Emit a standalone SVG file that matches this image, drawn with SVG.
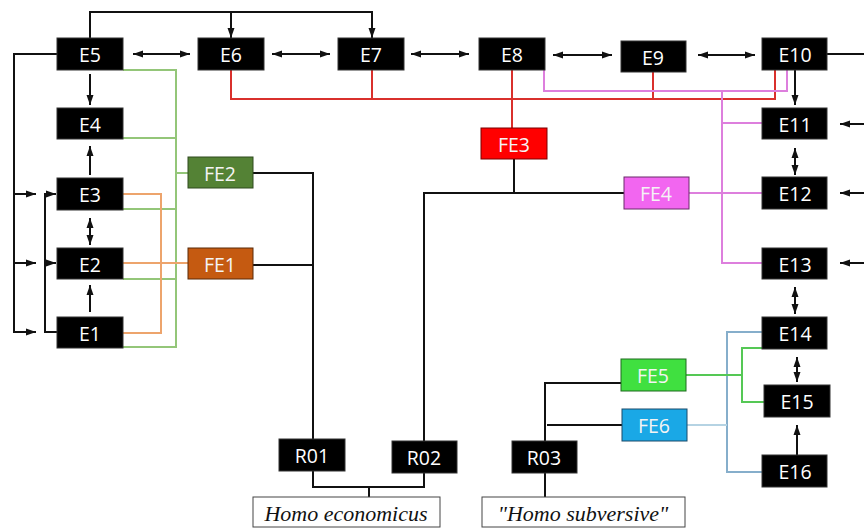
<svg xmlns="http://www.w3.org/2000/svg" width="864" height="528" viewBox="0 0 864 528">
<style>
.n rect{fill:#000;stroke:#333;stroke-width:1}
.n text{fill:#fff;font-family:"Open Sans","Liberation Sans",sans-serif;font-size:19.5px;text-anchor:middle;dominant-baseline:central}
.fe text{fill:#f4f4f4}
.lbl rect{fill:#fff;stroke:#444;stroke-width:1}
.lbl text{fill:#111;font-family:"Liberation Serif",serif;font-style:italic;font-size:22px;text-anchor:middle}
.c path{fill:none;stroke-width:2}
.k{stroke:#111}
.a{marker-end:url(#ah)}
.b{marker-start:url(#ahs);marker-end:url(#ah)}
.red{stroke:#d9302c}
.pk{stroke:#dd7fdd}
.lg{stroke:#94c679}
.or{stroke:#eda46c}
.bl{stroke:#86aecb}
.gr{stroke:#55c855}
</style>
<defs>
<marker id="ah" markerUnits="userSpaceOnUse" markerWidth="10" markerHeight="10" viewBox="0 0 10 10" refX="10" refY="5" orient="auto"><path d="M0,1.5 L10,5 L0,8.5 Z" fill="#111"/></marker>
<marker id="ahs" markerUnits="userSpaceOnUse" markerWidth="10" markerHeight="10" viewBox="0 0 10 10" refX="0" refY="5" orient="auto"><path d="M10,1.5 L0,5 L10,8.5 Z" fill="#111"/></marker>
</defs>
<g id="connectors" class="c">
<path class="k a" d="M90,38 V12 H372 V38"/>
<path class="k a" d="M231,12 V38"/>
<path class="k b" d="M133,54 H190"/>
<path class="k b" d="M272,54 H330"/>
<path class="k b" d="M411,54 H469"/>
<path class="k b" d="M553,55 H612"/>
<path class="k b" d="M698,55 H755"/>
<path class="k" d="M827,54 H864"/>
<path class="k a" d="M795,70 V105"/>
<path class="k a" d="M864,124 H840"/>
<path class="k a" d="M864,193 H840"/>
<path class="k a" d="M864,263 H840"/>
<path class="k b" d="M795,148 V175"/>
<path class="k b" d="M795,287 V314"/>
<path class="k b" d="M797,357 V382"/>
<path class="k a" d="M797,455 V425"/>
<path class="k a" d="M90,74 V105"/>
<path class="k a" d="M90,175 V146"/>
<path class="k b" d="M90,218 V245"/>
<path class="k a" d="M90,312 V285"/>
<path class="k a" d="M57,54 H14 V332 H36"/>
<path class="k a" d="M14,194 H36"/>
<path class="k a" d="M14,263 H36"/>
<path class="k a" d="M57,332 H45 V194 H56"/>
<path class="k a" d="M45,263 H56"/>
<path class="red" d="M231,70 V99 H775 V70"/>
<path class="red" d="M372,70 V99"/>
<path class="red" d="M653,72 V99"/>
<path class="red" d="M512,70 V128"/>
<path class="pk" d="M544,70 V91 H787 V70"/>
<path class="pk" d="M722,91 V263 H762"/>
<path class="pk" d="M722,123 H762"/>
<path class="pk" d="M689,193 H762"/>
<path class="lg" d="M123,70 H176 V347 H123"/>
<path class="lg" d="M123,138 H176"/>
<path class="lg" d="M176,173 H188"/>
<path class="lg" d="M123,209 H176"/>
<path class="lg" d="M123,279 H176"/>
<path class="or" d="M123,194 H161 V333 H123"/>
<path class="or" d="M123,263 H188"/>
<path class="k" d="M253,173 H313 V439"/>
<path class="k" d="M253,265 H313"/>
<path class="k" d="M313,471 V487 H424 V473"/>
<path class="k" d="M369,487 V497"/>
<path class="k" d="M424,441 V193 H624"/>
<path class="k" d="M514,159 V193"/>
<path class="k" d="M621,383 H545 V441"/>
<path class="k" d="M622,425 H547"/>
<path class="k" d="M545,473 V497"/>
<path class="bl" d="M762,332 H727 V472 H762"/>
<path class="bl" style="stroke:#b5d3e3" d="M687,425 H727"/>
<path class="gr" d="M686,375 H742"/>
<path class="gr" d="M762,348 H742 V402 H764"/>
</g>
<g id="E5" class="n"><rect x="57" y="38" width="66" height="32"/><text x="90" y="54">E5</text></g>
<g id="E6" class="n"><rect x="198" y="38" width="66" height="32"/><text x="231" y="54">E6</text></g>
<g id="E7" class="n"><rect x="338" y="38" width="66" height="32"/><text x="371" y="54">E7</text></g>
<g id="E8" class="n"><rect x="479" y="38" width="66" height="32"/><text x="512" y="54">E8</text></g>
<g id="E9" class="n"><rect x="621" y="41" width="65" height="31"/><text x="653" y="57">E9</text></g>
<g id="E10" class="n"><rect x="762" y="38" width="65" height="32"/><text x="795" y="54">E10</text></g>
<g id="E4" class="n"><rect x="57" y="108" width="66" height="31"/><text x="90" y="124">E4</text></g>
<g id="E3" class="n"><rect x="57" y="178" width="66" height="32"/><text x="90" y="194">E3</text></g>
<g id="E2" class="n"><rect x="57" y="248" width="66" height="31"/><text x="90" y="264">E2</text></g>
<g id="E1" class="n"><rect x="57" y="317" width="66" height="31"/><text x="90" y="333">E1</text></g>
<g id="E11" class="n"><rect x="762" y="108" width="65" height="31"/><text x="795" y="124">E11</text></g>
<g id="E12" class="n"><rect x="762" y="177" width="65" height="32"/><text x="795" y="193">E12</text></g>
<g id="E13" class="n"><rect x="762" y="248" width="65" height="31"/><text x="795" y="264">E13</text></g>
<g id="E14" class="n"><rect x="762" y="317" width="65" height="32"/><text x="795" y="333">E14</text></g>
<g id="E15" class="n"><rect x="764" y="385" width="66" height="32"/><text x="797" y="401">E15</text></g>
<g id="E16" class="n"><rect x="762" y="455" width="65" height="32"/><text x="795" y="471">E16</text></g>
<g id="FE2" class="n fe"><rect x="188" y="157" width="65" height="31" style="fill:#548235;stroke:#2f4a1e"/><text x="220" y="173">FE2</text></g>
<g id="FE1" class="n fe"><rect x="188" y="248" width="65" height="31" style="fill:#c55a11;stroke:#5a2a08"/><text x="220" y="264">FE1</text></g>
<g id="FE3" class="n fe"><rect x="481" y="128" width="66" height="31" style="fill:#ff0000;stroke:#7a0000"/><text x="514" y="144">FE3</text></g>
<g id="FE4" class="n fe"><rect x="624" y="177" width="65" height="32" style="fill:#f266f0;stroke:#6a2a6a"/><text x="656" y="193">FE4</text></g>
<g id="FE5" class="n fe"><rect x="621" y="359" width="65" height="32" style="fill:#40e040;stroke:#1f6a1f"/><text x="653" y="375">FE5</text></g>
<g id="FE6" class="n fe"><rect x="622" y="409" width="65" height="32" style="fill:#1aa8e6;stroke:#1a4a6a"/><text x="654" y="425">FE6</text></g>
<g id="R01" class="n"><rect x="279" y="439" width="66" height="32"/><text x="312" y="455">R01</text></g>
<g id="R02" class="n"><rect x="392" y="441" width="65" height="32"/><text x="424" y="457">R02</text></g>
<g id="R03" class="n"><rect x="512" y="441" width="65" height="32"/><text x="544" y="457">R03</text></g>
<g id="homo_economicus" class="lbl"><rect x="253" y="497" width="187" height="30"/><text x="346" y="521">Homo economicus</text></g>
<g id="homo_subversive" class="lbl"><rect x="482" y="497" width="203" height="30"/><text x="583" y="521">"Homo subversive"</text></g>
</svg>
